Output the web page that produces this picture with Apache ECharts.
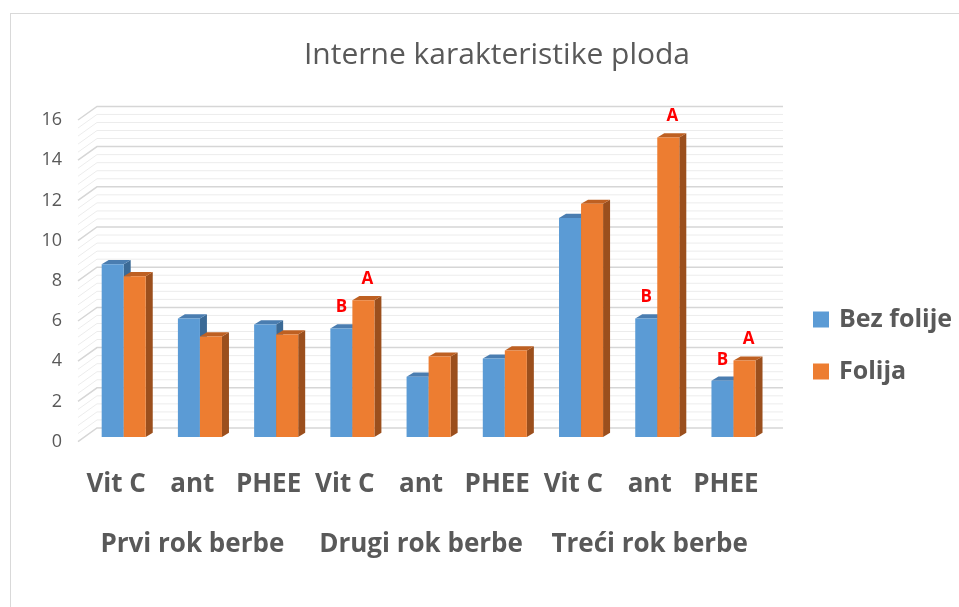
<!DOCTYPE html>
<html>
<head>
<meta charset="utf-8">
<script src="https://cdn.jsdelivr.net/npm/echarts@6/dist/echarts.min.js"></script>
<style>
html,body{margin:0;padding:0;background:#fff;}
#frame{position:absolute;left:10px;top:13px;width:2000px;height:2000px;border-left:1px solid #d9d9d9;border-top:1px solid #d9d9d9;}
#chart{position:absolute;left:0;top:0;width:959px;height:607px;}
</style>
</head>
<body>
<div id="frame"></div>
<div id="chart"></div>
<script>
// ---- data ----
const categories = ['Vit C', 'ant', 'PHEE', 'Vit C', 'ant', 'PHEE', 'Vit C', 'ant', 'PHEE'];
const groups = ['Prvi rok berbe', 'Drugi rok berbe', 'Treći rok berbe'];
const seriesNames = ['Bez folije', 'Folija'];
const bezFolije = [8.6, 5.9, 5.6, 5.4, 3.0, 3.9, 10.9, 5.9, 2.8];
const folija = [8.0, 5.0, 5.1, 6.8, 4.0, 4.3, 11.6, 14.9, 3.8];
const bezLetters = ['', '', '', 'B', '', '', '', 'B', 'B'];
const folijaLetters = ['', '', '', 'A', '', '', '', 'A', 'A'];
const yTicks = [0, 2, 4, 6, 8, 10, 12, 14, 16];

// ---- style ----
const FONT = '"Open Sans", Lato, sans-serif';
const TXT = '#595959';
const WALL_DX = 19, WALL_DY = 13.6;   // depth of back wall
const BAR_SHIFT_X = 7.6, BAR_SHIFT_Y = -4.6; // bar front plane vs floor front edge
const BAR_DX = 7, BAR_DY = 4.2;       // bar depth
const BAR_FRAC = 0.289;
const colors = [
  {front: '#5B9BD5', top: '#4A7DB0', side: '#3B6A96'},
  {front: '#ED7D31', top: '#BE6022', side: '#9B4F1D'}
];
const letterShift = [0, 4];

function barRenderer(k, letters) {
  return function (params, api) {
    const i = api.value(0), v = api.value(1);
    const base = api.coord([i, 0]);
    const top = api.coord([i, v]);
    const w = api.size([1, 0])[0] * BAR_FRAC;
    const cx = base[0] + BAR_SHIFT_X;
    const x0 = k === 0 ? cx - w : cx;
    const x1 = x0 + w;
    const yb = base[1] + BAR_SHIFT_Y;
    const yt = top[1] + BAR_SHIFT_Y;
    const c = colors[k];
    const children = [
      {type: 'polygon', shape: {points: [[x1, yt], [x1 + BAR_DX, yt - BAR_DY], [x1 + BAR_DX, yb - BAR_DY], [x1, yb]]}, style: {fill: c.side}},
      {type: 'polygon', shape: {points: [[x0, yt], [x1, yt], [x1 + BAR_DX, yt - BAR_DY], [x0 + BAR_DX, yt - BAR_DY]]}, style: {fill: c.top}},
      {type: 'rect', shape: {x: x0, y: yt, width: w, height: yb - yt}, style: {fill: c.front}}
    ];
    const L = letters[params.dataIndex];
    if (L) {
      children.push({type: 'text', style: {text: L, x: (x0 + x1) / 2 + letterShift[k], y: yt - 21, align: 'center', verticalAlign: 'middle',
        fill: '#FF0000', font: 'bold 17px ' + FONT}});
    }
    return {type: 'group', children: children};
  };
}

function wallRenderer(params, api) {
  const cs = params.coordSys;
  const t = api.value(1);
  const children = [];
  const steps = t < yTicks[yTicks.length - 1] ? 5 : 1;
  const stepVal = (yTicks[1] - yTicks[0]) / 5;
  for (let j = 0; j < steps; j++) {
    const y = api.coord([0, t + j * stepVal])[1];
    const major = j === 0;
    children.push({type: 'polyline', shape: {points: [[cs.x, y], [cs.x + WALL_DX, y - WALL_DY], [cs.x + cs.width + WALL_DX, y - WALL_DY]]},
      style: {stroke: major ? '#d6d6d6' : '#ececec', lineWidth: major ? 1.5 : 1, fill: null}});
  }
  return {type: 'group', children: children};
}

const chart = echarts.init(document.getElementById('chart'), null, {renderer: 'canvas'});
chart.setOption({
  animation: false,
  textStyle: {fontFamily: FONT},
  title: {
    text: 'Interne karakteristike ploda',
    left: 492, top: 35, textAlign: 'center',
    textStyle: {fontFamily: FONT, fontSize: 30, fontWeight: 'normal', color: TXT}
  },
  legend: {
    orient: 'vertical', left: 813, top: 306, padding: 0,
    itemWidth: 16, itemHeight: 16, itemGap: 25, icon: 'rect',
    data: seriesNames,
    textStyle: {fontFamily: FONT, fontSize: 25, lineHeight: 27, fontWeight: 'bold', color: TXT, padding: [0, 0, 0, 5]}
  },
  grid: {left: 78, top: 120, width: 686, height: 321.6},
  xAxis: [
    {type: 'category', data: categories, axisLine: {show: false}, axisTick: {show: false},
      axisLabel: {fontFamily: FONT, fontSize: 26, fontWeight: 'bold', color: TXT, margin: 30, interval: 0}},
    {type: 'category', data: groups, position: 'bottom', offset: 60, axisLine: {show: false}, axisTick: {show: false},
      axisLabel: {fontFamily: FONT, fontSize: 26, fontWeight: 'bold', color: TXT, margin: 30, interval: 0}}
  ],
  yAxis: {type: 'value', min: 0, max: 16, interval: 2, axisLine: {show: false}, axisTick: {show: false}, splitLine: {show: false},
    axisLabel: {fontFamily: FONT, fontSize: 18, color: TXT, margin: 16}},
  series: [
    {type: 'custom', name: 'wall', silent: true, z: 1, xAxisIndex: 0, renderItem: wallRenderer,
      data: yTicks.map(t => [0, t]), encode: {x: 0, y: 1}},
    {type: 'custom', name: seriesNames[0], z: 2, xAxisIndex: 0, itemStyle: {color: colors[0].front},
      renderItem: barRenderer(0, bezLetters), data: bezFolije.map((v, i) => [i, v]), encode: {x: 0, y: 1}},
    {type: 'custom', name: seriesNames[1], z: 3, xAxisIndex: 0, itemStyle: {color: colors[1].front},
      renderItem: barRenderer(1, folijaLetters), data: folija.map((v, i) => [i, v]), encode: {x: 0, y: 1}}
  ]
});
</script>
</body>
</html>
